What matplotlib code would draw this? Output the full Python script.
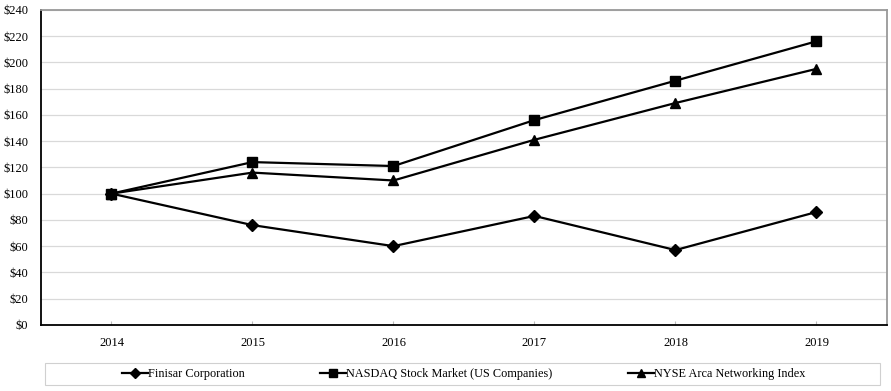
import matplotlib.pyplot as plt
from matplotlib.patches import Rectangle

years = ['2014', '2015', '2016', '2017', '2018', '2019']
finisar = [100, 76, 60, 83, 57, 86]
nasdaq = [100, 124, 121, 156, 186, 216]
nyse = [100, 116, 110, 141, 169, 195]

plt.rcParams['font.family'] = ['Liberation Serif', 'DejaVu Serif']

fig = plt.figure(figsize=(8.91, 3.91), dpi=100)
ax = fig.add_axes([0.046, 0.169, 0.9495, 0.806])

x = range(len(years))
l1, = ax.plot(x, finisar, color='black', lw=1.6, marker='D', ms=6, label='Finisar Corporation')
l2, = ax.plot(x, nasdaq, color='black', lw=1.6, marker='s', ms=7, label='NASDAQ Stock Market (US Companies)')
l3, = ax.plot(x, nyse, color='black', lw=1.6, marker='^', ms=7.5, label='NYSE Arca Networking Index')

ax.set_xlim(-0.5, 5.5)
ax.set_ylim(0, 240)
ax.set_yticks(range(0, 241, 20))
ax.set_yticklabels(['$%d' % v for v in range(0, 241, 20)])
ax.set_xticks(list(x))
ax.set_xticklabels(years)
ax.grid(axis='y', color='#d9d9d9', lw=0.9)
ax.set_axisbelow(True)

for s in ['left', 'bottom']:
    ax.spines[s].set_color('black')
    ax.spines[s].set_linewidth(1.3)
for s in ['top', 'right']:
    ax.spines[s].set_color('#999999')
    ax.spines[s].set_linewidth(1.3)

ax.tick_params(axis='y', length=0, labelsize=9, pad=9)
ax.tick_params(axis='x', direction='in', length=3, color='#bbbbbb', labelsize=9, pad=9)

# legend: one frame, three entries placed like the original
fig.patches.append(Rectangle((0.0505, 0.0153), 0.937, 0.0563, transform=fig.transFigure,
                             facecolor='white', edgecolor='#d0d0d0', lw=0.8))
for line, x0 in [(l1, 122), (l2, 320), (l3, 628)]:
    leg = fig.legend([line], [line.get_label()], loc='center left',
                     bbox_to_anchor=(x0 / 891, 0.0435), frameon=False, fontsize=8.8,
                     handlelength=2.1, handletextpad=0.05, borderpad=0, borderaxespad=0,
                     markerscale=0.8)

fig.savefig('out.png', dpi=100)
